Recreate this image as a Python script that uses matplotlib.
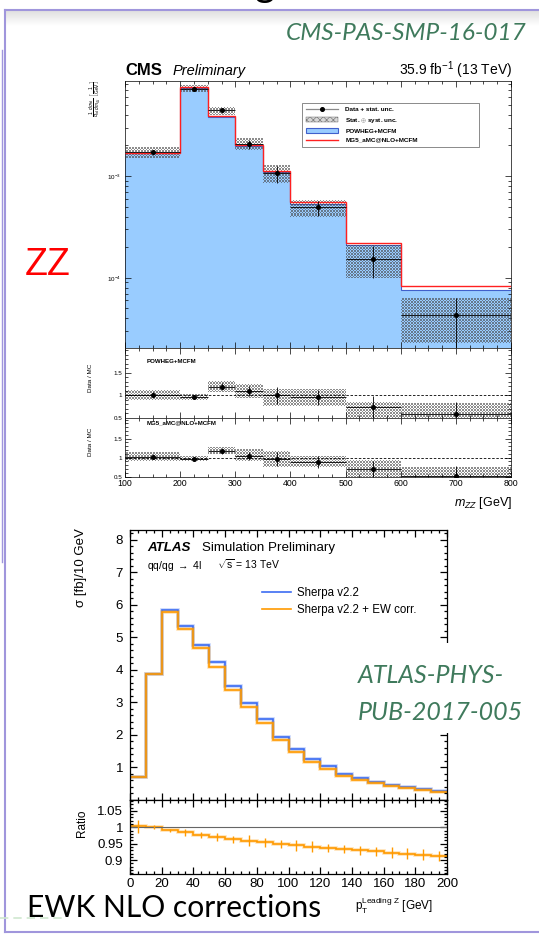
#!/usr/bin/env python
# ZZ -> 4l differential distributions:
#   top    : CMS unfolded m_ZZ, data vs POWHEG / MG5_aMC@NLO with Data/MC ratios
#   bottom : ATLAS leading-Z pT, Sherpa v2.2 with and without EW NLO corrections

import numpy as np
import matplotlib
matplotlib.use('Agg')
import matplotlib.pyplot as plt
from matplotlib.ticker import MultipleLocator, FixedLocator, FixedFormatter, LogLocator, NullFormatter, FuncFormatter
from matplotlib.lines import Line2D
from matplotlib.patches import Patch, Rectangle, PathPatch
from matplotlib.path import Path

plt.rcParams['font.family'] = ['Liberation Sans', 'DejaVu Sans']
plt.rcParams['mathtext.fontset'] = 'custom'
plt.rcParams['mathtext.rm'] = 'Liberation Sans'
plt.rcParams['mathtext.it'] = 'Liberation Sans:italic'
plt.rcParams['mathtext.bf'] = 'Liberation Sans:bold'
plt.rcParams['hatch.linewidth'] = 0.35
plt.rcParams['hatch.color'] = '#5a5a5a'

##### CMS m_ZZ [GeV], normalised cross section [1/GeV] #####
mzz_edges = [100, 200, 250, 300, 350, 400, 500, 600, 800]
mzz_data = [1.72e-3, 7.2e-3, 4.42e-3, 2.06e-3, 1.06e-3, 4.93e-4, 1.53e-4, 4.3e-5]
mzz_stat_lo = [0.10e-3, 0.20e-3, 0.28e-3, 0.22e-3, 0.21e-3, 0.9e-4, 0.54e-4, 2.3e-5]
mzz_stat_hi = [0.10e-3, 0.20e-3, 0.30e-3, 0.20e-3, 0.19e-3, 0.8e-4, 0.52e-4, 2.0e-5]
mzz_tot_lo = [1.49e-3, 6.65e-3, 3.98e-3, 1.80e-3, 0.85e-3, 4.0e-4, 0.99e-4, 2.3e-5]
mzz_tot_hi = [1.91e-3, 7.85e-3, 4.80e-3, 2.35e-3, 1.28e-3, 5.8e-4, 2.1e-4, 6.3e-5]
mzz_powheg = [1.67e-3, 7.38e-3, 3.83e-3, 1.97e-3, 1.09e-3, 5.3e-4, 2.12e-4, 7.57e-5]
mzz_mg5 = [1.70e-3, 7.55e-3, 3.88e-3, 2.00e-3, 1.11e-3, 5.5e-4, 2.2e-4, 8.3e-5]

# Data / MC
ratio_powheg = [1.01, 0.96, 1.19, 1.09, 1.00, 0.955, 0.74, 0.58]
ratio_powheg_lo = [0.89, 0.90, 1.07, 0.94, 0.77, 0.77, 0.49, 0.49]
ratio_powheg_hi = [1.11, 1.03, 1.31, 1.24, 1.14, 1.13, 0.84, 0.83]
ratio_mg5 = [1.03, 0.97, 1.18, 1.05, 0.97, 0.89, 0.69, 0.53]
ratio_mg5_lo = [0.91, 0.91, 1.10, 0.91, 0.75, 0.75, 0.50, 0.50]
ratio_mg5_hi = [1.14, 1.05, 1.29, 1.22, 1.18, 1.05, 0.94, 0.76]

##### ATLAS pT(leading Z) [GeV], sigma [fb] / 10 GeV #####
ptz_edges = list(range(0, 210, 10))
sherpa = [0.72, 3.88, 5.85, 5.36, 4.78, 4.23, 3.51, 2.99, 2.48, 1.95,
          1.56, 1.25, 1.03, 0.80, 0.67, 0.54, 0.47, 0.39, 0.33, 0.27]
sherpa_ew = [0.72, 3.88, 5.78, 5.27, 4.68, 4.08, 3.39, 2.87, 2.36, 1.85,
             1.48, 1.17, 0.95, 0.75, 0.63, 0.51, 0.44, 0.37, 0.31, 0.25]
ew_ratio = [1.003, 1.001, 0.991, 0.985, 0.977, 0.970, 0.963, 0.959, 0.954, 0.949,
            0.945, 0.941, 0.937, 0.933, 0.930, 0.927, 0.923, 0.920, 0.917, 0.913]
ew_ratio_err = [0.019, 0.006, 0.004, 0.010, 0.010, 0.012, 0.011, 0.017, 0.013, 0.013,
                0.016, 0.017, 0.013, 0.012, 0.014, 0.014, 0.016, 0.017, 0.016, 0.015]

W, H = 539, 938
fig = plt.figure(figsize=(W / 100, H / 100), dpi=100)


def rect(x0, y0, x1, y1):
    # pixel box, origin top-left -> figure fraction
    return [x0 / W, 1 - y1 / H, (x1 - x0) / W, (y1 - y0) / H]


def root_ticks(ax, major, minor, width, size):
    ax.tick_params(which='both', direction='in', top=True, right=True, width=width, labelsize=size)
    ax.tick_params(which='major', length=major)
    ax.tick_params(which='minor', length=minor)
    for s in ax.spines.values():
        s.set_linewidth(width)


def hatch_band(ax, wpx, hpx, lefts, widths, lows, highs, zorder):
    # ROOT-like fine cross-hatch: pixel texture clipped to the band boxes
    boxes = [Path([(l, lo), (l + w, lo), (l + w, hi), (l, hi), (l, lo)],
                  [Path.MOVETO, Path.LINETO, Path.LINETO, Path.LINETO, Path.CLOSEPOLY])
             for l, w, lo, hi in zip(lefts, widths, lows, highs)]
    clip = PathPatch(Path.make_compound_path(*boxes), transform=ax.transData,
                     facecolor='none', edgecolor='none')
    ax.add_patch(clip)
    i, j = np.mgrid[0:int(round(hpx)), 0:int(round(wpx))]
    mask = ((i + j) % 3 == 0) | ((i - j) % 3 == 0)
    tex = np.zeros(mask.shape + (4,))
    tex[..., :3] = 0.28
    tex[..., 3] = mask * 0.62
    im = ax.imshow(tex, extent=(0, 1, 0, 1), transform=ax.transAxes, interpolation='nearest',
                   aspect='auto', zorder=zorder)
    im.set_clip_path(clip)


cms_blue = '#99ccff'
cms_edge = '#4060cc'
cms_red = '#ff2020'
hatch_col = '#5a5a5a'

lo_edge = np.array(mzz_edges[:-1])
hi_edge = np.array(mzz_edges[1:])
mzz_c = (lo_edge + hi_edge) / 2
mzz_hw = (hi_edge - lo_edge) / 2
mzz_w = hi_edge - lo_edge
data = np.array(mzz_data)

# ---- CMS main panel
ax = fig.add_axes(rect(125, 81, 511, 348))
ax.set_yscale('log')
ax.stairs(mzz_powheg, mzz_edges, fill=True, color=cms_blue, baseline=1e-7, zorder=1)
ax.stairs(mzz_powheg, mzz_edges, color=cms_edge, lw=0.8, baseline=None, zorder=2)
hatch_band(ax, 386, 267, lo_edge, mzz_w, mzz_tot_lo, mzz_tot_hi, 3)
ax.stairs(mzz_mg5, mzz_edges, color=cms_red, lw=1.0, baseline=None, zorder=4)
ax.errorbar(mzz_c, mzz_data, yerr=[mzz_stat_lo, mzz_stat_hi], xerr=mzz_hw, fmt='o', ms=2.6,
            color='black', lw=0.6, capsize=0, zorder=5)
ax.set_xlim(100, 800)
ax.set_ylim(2.04e-5, 8.6e-3)
ax.yaxis.set_major_locator(FixedLocator([1e-4, 1e-3]))
ax.yaxis.set_major_formatter(FixedFormatter([r'$10^{-4}$', r'$10^{-3}$']))
ax.yaxis.set_minor_locator(LogLocator(base=10, subs=np.arange(2, 10), numticks=20))
ax.yaxis.set_minor_formatter(NullFormatter())
ax.xaxis.set_major_locator(MultipleLocator(100))
ax.xaxis.set_minor_locator(MultipleLocator(25))
ax.set_xticklabels([])
root_ticks(ax, 4, 2, 0.5, 4.5)
ax.tick_params(axis='y', pad=3)

handles = [
    Line2D([], [], color='#8a8a8a', lw=0.9, marker='o', ms=2.6, mfc='black', mec='black'),
    Patch(facecolor='#d8d8d8', edgecolor=hatch_col, hatch='xxxxx', lw=0.3),
    Patch(facecolor=cms_blue, edgecolor=cms_edge, lw=0.8),
    Line2D([], [], color=cms_red, lw=1.0),
]
labels = ['Data + stat. unc.', r'Stat. $\oplus$ syst. unc.', 'POWHEG+MCFM', 'MG5_aMC@NLO+MCFM']
lx0, lx1 = (302 - 125) / 386, (479 - 125) / 386
ly0, ly1 = 1 - (149 - 81) / 267, 1 - (103 - 81) / 267
leg = ax.legend(handles, labels, loc='upper left', bbox_to_anchor=(lx0, ly0, lx1 - lx0, ly1 - ly0),
                mode='expand', borderaxespad=0, prop={'size': 4.6, 'weight': 'bold'}, frameon=True,
                fancybox=False, edgecolor='#555555', handlelength=5, handletextpad=1.2,
                labelspacing=0.55, borderpad=0.6)
leg.get_frame().set_linewidth(0.6)
leg.set_zorder(10)

# ---- CMS ratio panels
panels = [
    ((348, 417.7), ratio_powheg, ratio_powheg_lo, ratio_powheg_hi, 'POWHEG+MCFM', 363),
    ((417.7, 476.7), ratio_mg5, ratio_mg5_lo, ratio_mg5_hi, 'MG5_aMC@NLO+MCFM', 424),
]
for i, ((y0, y1), r, rlo, rhi, name, ty) in enumerate(panels):
    rax = fig.add_axes(rect(125, y0, 511, y1))
    r = np.array(r)
    hatch_band(rax, 386, y1 - y0, lo_edge, mzz_w, rlo, rhi, 1)
    rax.axhline(1, color='black', lw=0.6, ls=(0, (3, 2)), zorder=2)
    rerr = [r * np.array(mzz_stat_lo) / data, r * np.array(mzz_stat_hi) / data]
    rax.errorbar(mzz_c, r, yerr=rerr, xerr=mzz_hw, fmt='o', ms=2.6, color='black', lw=0.6,
                 capsize=0, zorder=3)
    rax.set_xlim(100, 800)
    rax.set_ylim(0.5, 2.05)
    rax.yaxis.set_major_locator(FixedLocator([0.5, 1, 1.5]))
    rax.yaxis.set_major_formatter(FixedFormatter(['0.5', '1', '1.5']))
    rax.yaxis.set_minor_locator(MultipleLocator(0.1))
    rax.xaxis.set_major_locator(MultipleLocator(100))
    rax.xaxis.set_minor_locator(MultipleLocator(25))
    root_ticks(rax, 4, 2, 0.5, 4.5)
    rax.tick_params(axis='y', pad=2)
    if i == 0:
        rax.set_xticklabels([])
    else:
        rax.tick_params(axis='x', labelsize=6.3, pad=1.5)
    fig.text(147 / W, 1 - ty / H, name, fontsize=4.4, weight='bold', va='baseline')

# ---- ATLAS main panel
at_blue = '#3c6cf2'
at_orange = '#ff9a00'
ptz_c = (np.array(ptz_edges[:-1]) + np.array(ptz_edges[1:])) / 2

ax2 = fig.add_axes(rect(130, 530, 447, 800))
for vals, col in [(sherpa, at_blue), (sherpa_ew, at_orange)]:
    ax2.stairs(vals, ptz_edges, color=col, lw=2.6, alpha=0.3, baseline=None)
    ax2.stairs(vals, ptz_edges, color=col, lw=1.2, baseline=None)
ax2.set_xlim(0, 200)
ax2.set_ylim(0, 8.3)
ax2.yaxis.set_major_locator(MultipleLocator(1))
ax2.yaxis.set_minor_locator(MultipleLocator(0.2))
ax2.yaxis.set_major_formatter(FuncFormatter(lambda v, p: '' if v < 0.5 else '%d' % v))
ax2.xaxis.set_major_locator(MultipleLocator(20))
ax2.xaxis.set_minor_locator(MultipleLocator(5))
ax2.set_xticklabels([])
root_ticks(ax2, 5, 2.5, 0.9, 9.5)
ax2.tick_params(axis='y', pad=5)
at_handles = [Line2D([], [], color=at_blue, lw=1.2), Line2D([], [], color=at_orange, lw=1.2)]
ax2.legend(at_handles, ['Sherpa v2.2', 'Sherpa v2.2 + EW corr.'], loc='upper left',
           bbox_to_anchor=((262 - 130) / 317, 1 - (587 - 530) / 270), borderaxespad=0,
           borderpad=0, frameon=False, fontsize=8.3, handlelength=2.5, handletextpad=0.5,
           labelspacing=0.45)

# ---- ATLAS ratio panel
ar = fig.add_axes(rect(130, 800, 447, 874.3))
ar.axhline(1, color='#666666', lw=0.8)
ar.stairs(ew_ratio, ptz_edges, color=at_orange, lw=2.6, alpha=0.3, baseline=None)
ar.stairs(ew_ratio, ptz_edges, color=at_orange, lw=1.2, baseline=None)
ar.errorbar(ptz_c, ew_ratio, yerr=ew_ratio_err, fmt='none', ecolor=at_orange, lw=1.0)
ar.set_xlim(0, 200)
ar.set_ylim(0.857, 1.083)
ar.yaxis.set_major_locator(MultipleLocator(0.05))
ar.yaxis.set_minor_locator(MultipleLocator(0.01))
ar.yaxis.set_major_formatter(FuncFormatter(lambda v, p: '%g' % round(v, 2)))
ar.xaxis.set_major_locator(MultipleLocator(20))
ar.xaxis.set_minor_locator(MultipleLocator(5))
root_ticks(ar, 5, 2.5, 0.9, 9.5)
ar.tick_params(axis='y', pad=5)
ar.tick_params(axis='x', pad=3)

# ---- slide layer: frame, titles, labels
ov = fig.add_axes([0, 0, 1, 1], zorder=10)
ov.axis('off')
grad = np.linspace(0.88, 1.0, 16)[:, None]
ov.imshow(grad, extent=(6, 539, 26, 11), cmap='gray', vmin=0, vmax=1, aspect='auto')
ov.set_xlim(0, W)
ov.set_ylim(H, 0)
frame = '#a096dc'
ov.plot([5, 539], [10, 10], color=frame, lw=1.5)
ov.plot([5, 5], [10, 932], color=frame, lw=1.5)
ov.plot([5, 539], [932, 932], color=frame, lw=1.5)
ov.plot([2, 2], [50, 562], color=frame, lw=1.0)
ov.plot([0, 63], [918, 918], color='#cfe8cf', lw=1.2, ls=(0, (5, 3)))

ov.text(255, -4, 'g', fontsize=28, family='Lato', color='black', va='baseline')
ov.text(527, 40, 'CMS-PAS-SMP-16-017', ha='right', va='baseline', fontsize=17.6,
        family='Lato', style='italic', color='#3f7a5c')
ov.text(25, 275, 'ZZ', fontsize=27, color='#ff0000', va='baseline')
ov.add_patch(Rectangle((350, 643), 185, 90, facecolor='white', edgecolor='none'))
ov.text(358, 683, 'ATLAS-PHYS-', fontsize=18, family='Lato', style='italic', color='#3f7a5c',
        va='baseline')
ov.text(358, 720, 'PUB-2017-005', fontsize=18, family='Lato', style='italic', color='#3f7a5c',
        va='baseline')
ov.text(27, 917, 'EWK NLO corrections', fontsize=21.6, family='Lato', color='black', va='baseline')

# CMS labels
ov.text(125, 75, 'CMS', fontsize=12, weight='bold', va='baseline')
ov.text(173, 75, 'Preliminary', fontsize=10.5, style='italic', va='baseline')
ov.text(512, 75, r'35.9 fb$^{-1}$ (13 TeV)', fontsize=10, ha='right', va='baseline')
ov.text(95, 80, r'$\frac{1}{\sigma_{\mathrm{fid}}}\frac{d\sigma_{\mathrm{fid}}}{dm_{4\ell}}\ \left[\frac{1}{\mathrm{GeV}}\right]$',
        fontsize=5, rotation=90, ha='center', va='top')
ov.text(91, 378, 'Data / MC', fontsize=4.5, rotation=90, ha='center', va='center')
ov.text(91, 442, 'Data / MC', fontsize=4.5, rotation=90, ha='center', va='center')
ov.text(512, 506, r'$m_{ZZ}$ [GeV]', fontsize=9, ha='right', va='baseline')

# ATLAS labels
ov.text(147, 551, 'ATLAS', fontsize=9.6, weight='bold', style='italic', va='baseline')
ov.text(202, 551, 'Simulation Preliminary', fontsize=9.6, va='baseline')
ov.text(147, 569, r'qq/qg $\rightarrow$ 4l', fontsize=7.5, va='baseline')
ov.text(217, 569, r'$\sqrt{\mathrm{s}}$ = 13 TeV', fontsize=7.5, va='baseline')
ov.text(81, 528, 'σ [fb]/10 GeV', fontsize=9.5, rotation=90, ha='center', va='top')
ov.text(82, 823, 'Ratio', fontsize=8.5, rotation=90, ha='center', va='center')
ov.text(433, 911, r'p$_{\mathrm{T}}^{\mathrm{Leading\ Z}}$ [GeV]', fontsize=8.5, ha='right', va='baseline')

fig.savefig('out.png', dpi=100)
